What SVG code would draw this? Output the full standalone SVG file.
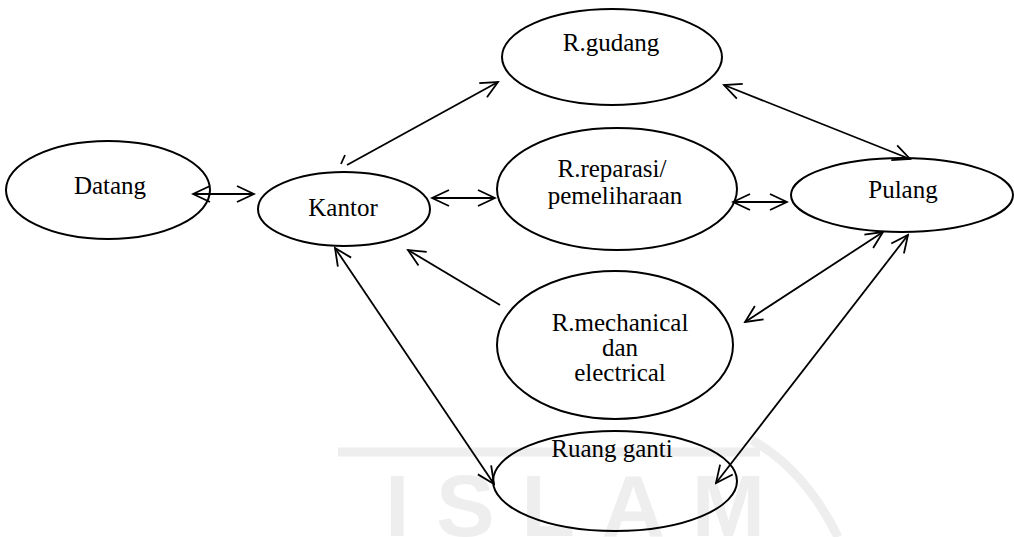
<svg xmlns="http://www.w3.org/2000/svg" width="1014" height="537" viewBox="0 0 1014 537">
  <defs>
    <style>
      .node ellipse { fill: none; stroke: #000000; stroke-width: 2; }
      .node text { font-family: "Liberation Serif", "Times New Roman", serif; font-size: 25px; fill: #000000; text-anchor: middle; }
      .conn line { stroke: #000000; stroke-width: 1.8; fill: none; }
      .mark { font-family: "Liberation Sans", Arial, sans-serif; font-weight: bold; font-size: 88px; fill: #eeeeee; }
      .markline { stroke: #eeeeee; fill: none; stroke-width: 9; }
    </style>
    <marker id="head" viewBox="0 0 22 22" refX="20" refY="11" markerWidth="22" markerHeight="22" markerUnits="userSpaceOnUse" orient="auto-start-reverse">
      <path d="M3,3 L20,11 L3,19" fill="none" stroke="#000" stroke-width="1.8"/>
    </marker>
  </defs>

  <rect width="1014" height="537" fill="#ffffff"/>

  <!-- faint background emblem -->
  <g id="emblem">
    <path class="markline" d="M338,452 L760,452"/>
    <path class="markline" d="M752,440 Q805,470 838,537"/>
    <text class="mark" x="385" y="536" textLength="380" lengthAdjust="spacing">ISLAM</text>
  </g>

  <!-- connectors -->
  <g id="connectors" class="conn">
    <line x1="193" y1="194" x2="254" y2="194" marker-start="url(#head)" marker-end="url(#head)"/>
    <line x1="347" y1="165" x2="498" y2="82" marker-end="url(#head)"/>
    <line x1="341" y1="164" x2="345" y2="155"/>
    <line x1="432" y1="198" x2="495" y2="198" marker-start="url(#head)" marker-end="url(#head)"/>
    <line x1="724" y1="85" x2="910" y2="159" marker-start="url(#head)" marker-end="url(#head)"/>
    <line x1="733" y1="202" x2="787" y2="202" marker-start="url(#head)" marker-end="url(#head)"/>
    <line x1="500" y1="305" x2="408" y2="250" marker-end="url(#head)"/>
    <line x1="335" y1="248" x2="494" y2="484" marker-start="url(#head)" marker-end="url(#head)"/>
    <line x1="883" y1="232" x2="745" y2="322" marker-start="url(#head)" marker-end="url(#head)"/>
    <line x1="908" y1="235" x2="716" y2="483" marker-start="url(#head)" marker-end="url(#head)"/>
  </g>

  <g id="datang" class="node">
    <ellipse cx="108" cy="190" rx="102" ry="49"/>
    <text x="110" y="194">Datang</text>
  </g>

  <g id="kantor" class="node">
    <ellipse cx="344" cy="209" rx="86" ry="37"/>
    <text x="343" y="216">Kantor</text>
  </g>

  <g id="r-gudang" class="node">
    <ellipse cx="612" cy="57" rx="110" ry="48"/>
    <text x="611" y="51">R.gudang</text>
  </g>

  <g id="r-reparasi" class="node">
    <ellipse cx="617" cy="189" rx="120" ry="61"/>
    <text x="612" y="177">R.reparasi/</text>
    <text x="615" y="204">pemeliharaan</text>
  </g>

  <g id="pulang" class="node">
    <ellipse cx="902" cy="195" rx="111" ry="37"/>
    <text x="903" y="198">Pulang</text>
  </g>

  <g id="r-mechanical" class="node">
    <ellipse cx="615" cy="345" rx="118" ry="74"/>
    <text x="620" y="331">R.mechanical</text>
    <text x="620" y="356">dan</text>
    <text x="620" y="381">electrical</text>
  </g>

  <g id="ruang-ganti" class="node">
    <ellipse cx="615" cy="481" rx="122" ry="50"/>
    <text x="612" y="457">Ruang ganti</text>
  </g>
</svg>
